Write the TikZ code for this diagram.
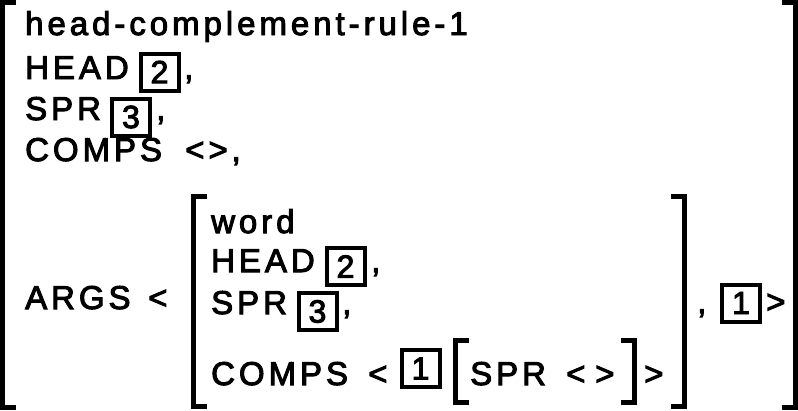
\documentclass[tikz,border=0pt]{standalone}
\usepackage{fontspec}
\setmainfont[LetterSpace=12,FakeBold=3]{Liberation Sans}
\begin{document}
\begin{tikzpicture}[x=1pt,y=-1pt,
  txt/.style={inner sep=0pt, anchor=base west, font=\fontsize{33}{33}\selectfont},
  tag/.style={draw, line width=4pt, minimum width=38pt, minimum height=37pt, inner sep=0pt, anchor=center, font=\fontsize{32}{32}\selectfont},
  brk/.style={line width=5pt}]
\useasboundingbox (0,0) rectangle (798,410);
% outer brackets
\draw[brk] (16,2.5) -- (2.5,2.5) -- (2.5,407.5) -- (16,407.5);
\draw[brk] (782,2.5) -- (795.5,2.5) -- (795.5,407.5) -- (782,407.5);
% outer rows
\node[txt] (type) at (25,35) {head-complement-rule-1};
\node[txt] (head) at (25,79) {HEAD};
\node[tag] (t2) at (159.5,72) {2};
\node[txt] (c1) at (184,79) {,};
\node[txt] (spr) at (25,120) {SPR};
\node[tag] (t3) at (131,117) {3};
\node[txt] (c2) at (156,120) {,};
\node[txt] (comps) at (25,161) {COMPS};
\node[txt] (lt0) at (185,161) {<>,};
\node[txt] (args) at (25,309) {ARGS};
\node[txt] (lt1) at (148,309) {<};
% inner brackets
\draw[brk] (207,196) -- (193.5,196) -- (193.5,406) -- (207,406);
\draw[brk] (671,196) -- (684.5,196) -- (684.5,406) -- (671,406);
% inner rows
\node[txt] (word) at (211,233) {word};
\node[txt] (ihead) at (211,272) {HEAD};
\node[tag] (it2) at (345.5,266.5) {2};
\node[txt] (ic1) at (371,272) {,};
\node[txt] (ispr) at (211,314) {SPR};
\node[tag] (it3) at (317.5,311.5) {3};
\node[txt] (ic2) at (342,314) {,};
\node[txt] (icomps) at (211,385) {COMPS};
\node[txt] (lt2) at (368,385) {<};
\node[tag] (it1) at (420.5,368.5) {1};
\draw[brk] (469,340) -- (455.5,340) -- (455.5,402) -- (469,402);
\node[txt] (sspr) at (470,385) {SPR};
\node[txt] (lt3) at (566,385) {<};
\node[txt] (gt3) at (595,385) {>};
\draw[brk] (621,340) -- (634,340) -- (634,402) -- (621,402);
\node[txt] (gt1) at (644,385) {>};
% after inner matrix
\node[txt] (c3) at (697,313) {,};
\node[tag] (t1) at (741,303) {1};
\node[txt] (gt2) at (766,313) {>};
\end{tikzpicture}
\end{document}
